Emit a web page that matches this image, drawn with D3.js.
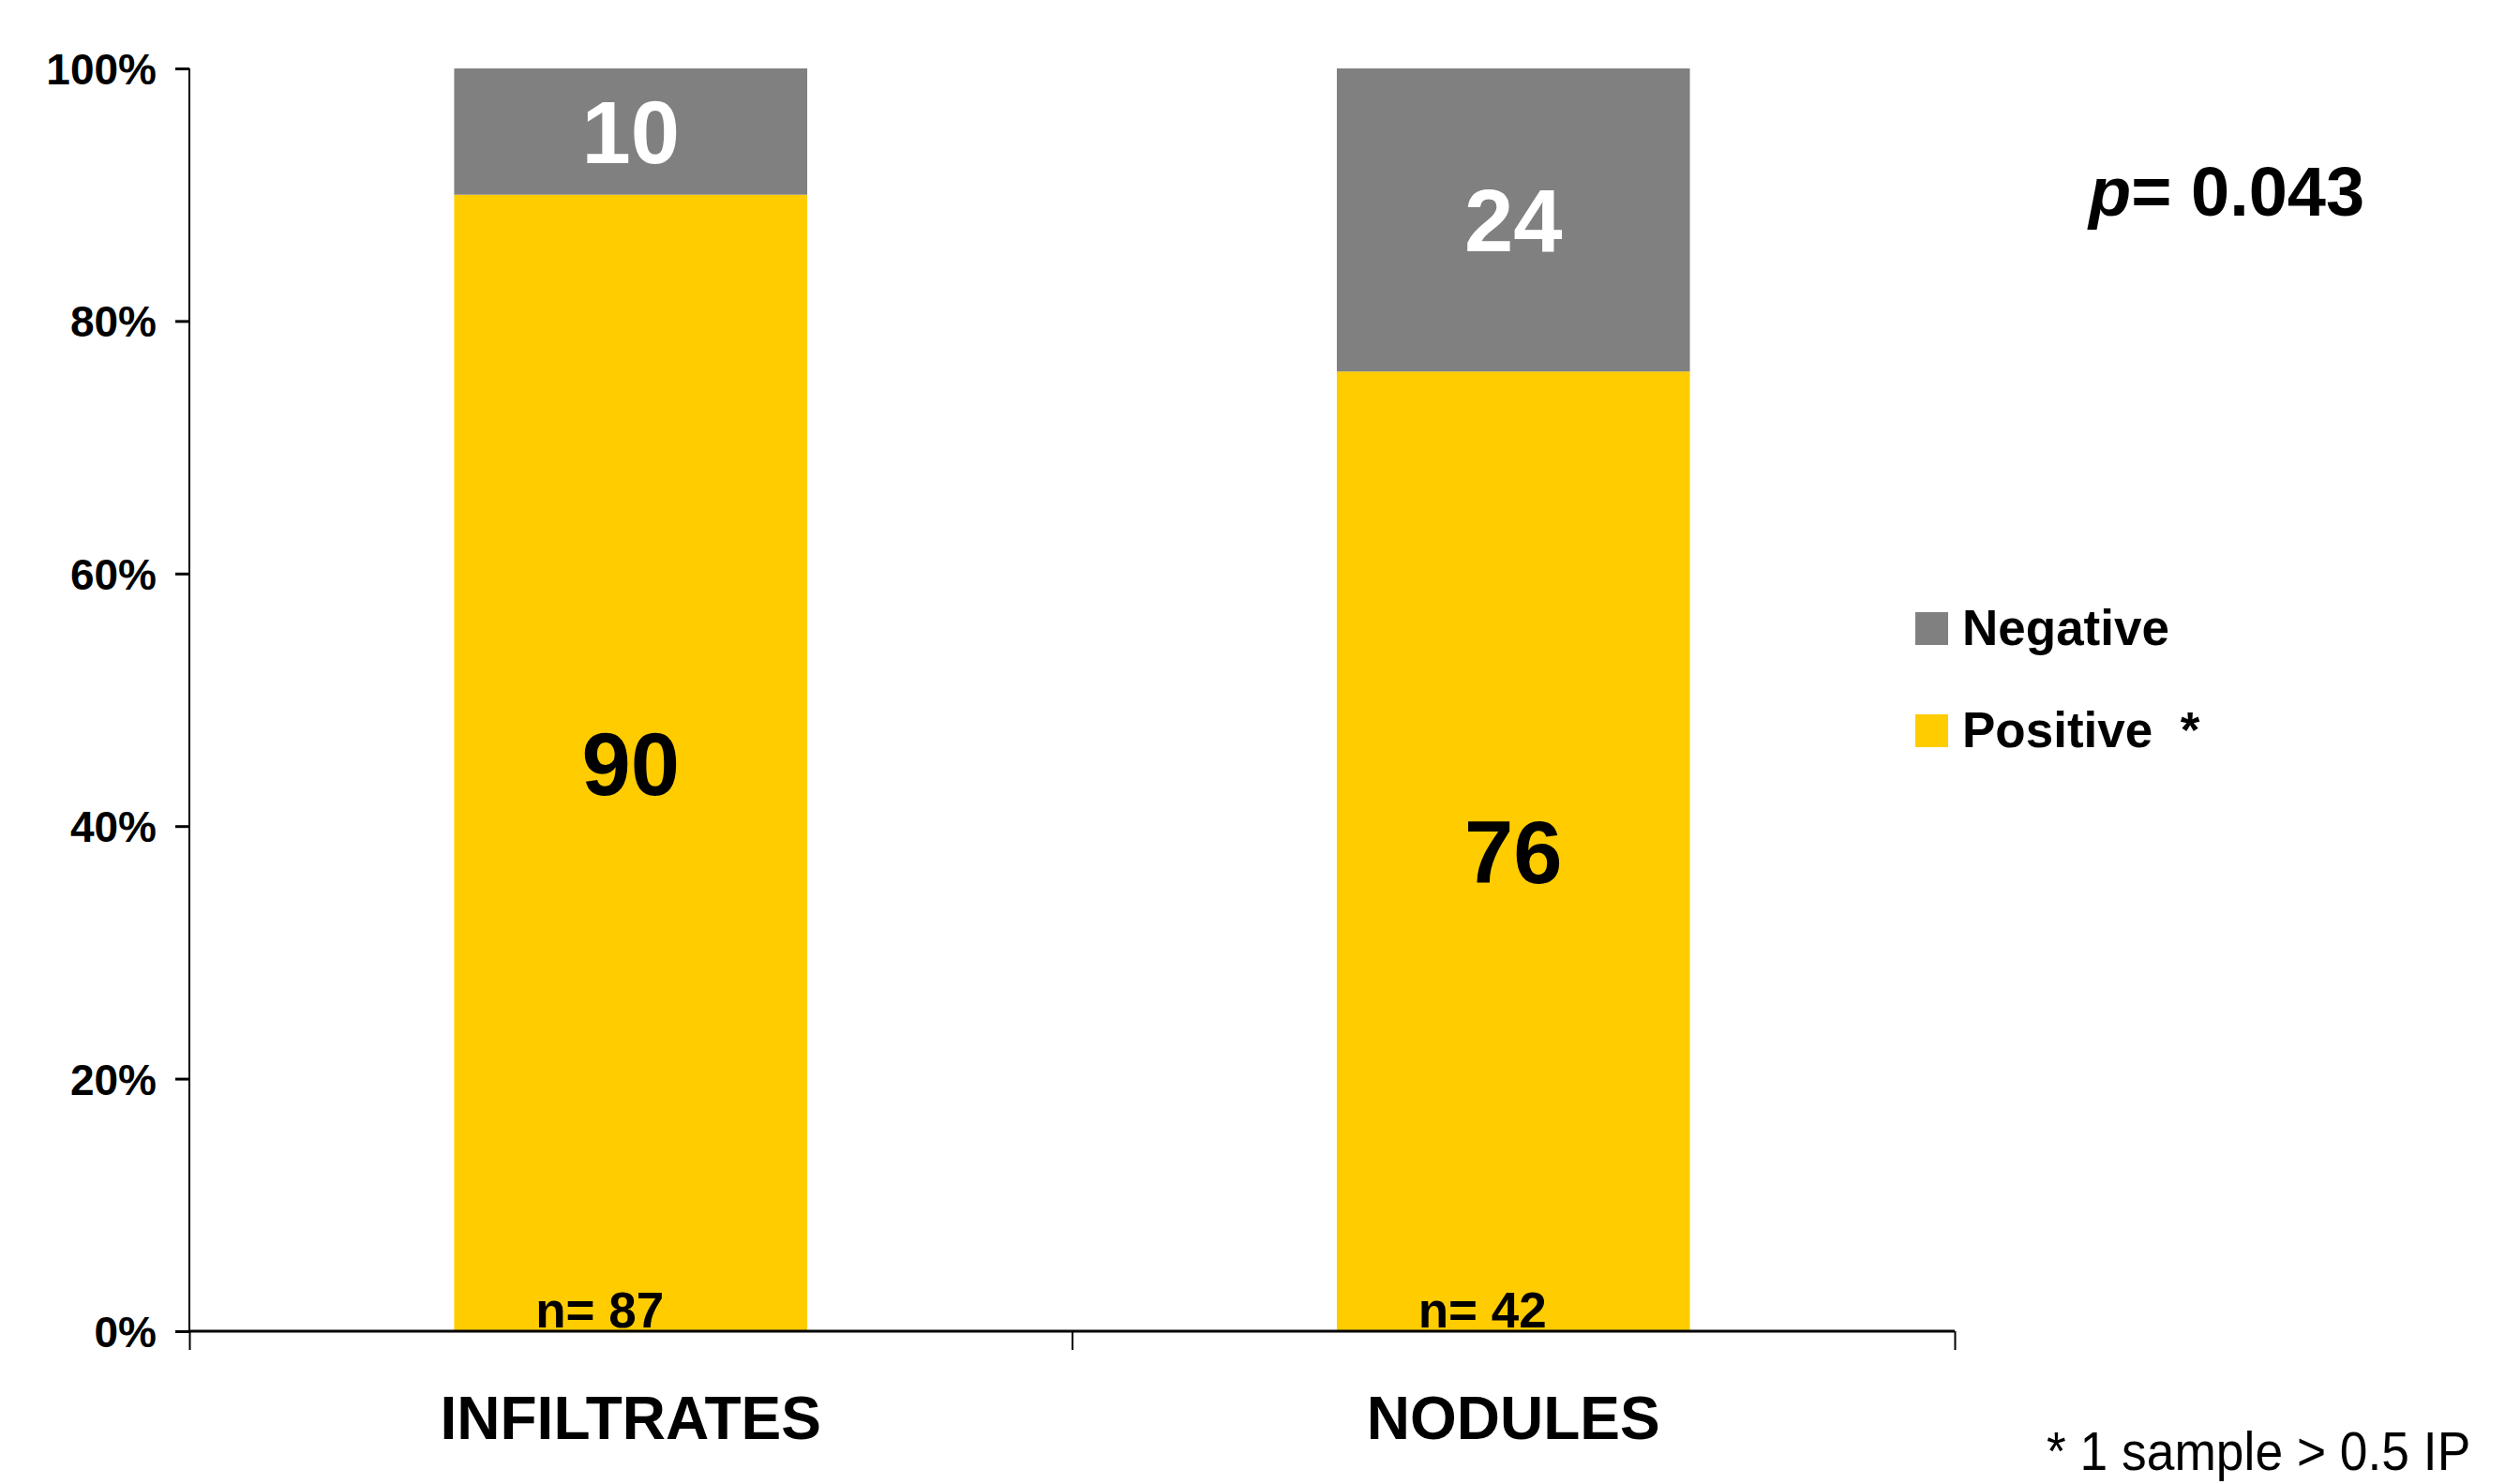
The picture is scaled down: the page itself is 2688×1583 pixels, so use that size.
<!DOCTYPE html>
<html>
<head>
<meta charset="utf-8">
<script src="https://cdn.jsdelivr.net/npm/d3@7"></script>
<style>
  html, body { margin: 0; padding: 0; background: #ffffff; }
  svg { display: block; font-family: "Liberation Sans", Arial, sans-serif; }
</style>
</head>
<body>
<svg id="chart" width="2688" height="1583"></svg>
<script>
// ---- data ----
const categories = ["INFILTRATES", "NODULES"];
const positive = [90, 76];
const negative = [10, 24];
const nLabels = ["n= 87", "n= 42"];
const yTicks = [0, 20, 40, 60, 80, 100];
const seriesKeys = ["Positive", "Negative"];
const seriesColors = ["#FFCC00", "#808080"];
const legendLabels = ["Negative", "Positive  *"];
const pValueText = "= 0.043";
const footnote = "* 1 sample > 0.5 IP";

// ---- layout ----
const W = 2688, H = 1583;
const margin = { left: 202, top: 73, right: 603, bottom: 163 };
const plotW = W - margin.left - margin.right;   // 1883
const plotH = H - margin.top - margin.bottom;   // 1347

const svg = d3.select("#chart");
const g = svg.append("g").attr("transform", `translate(${margin.left},${margin.top})`);

const x = d3.scaleBand().domain(categories).range([0, plotW]).paddingInner(0.6).paddingOuter(0.3);
const y = d3.scaleLinear().domain([0, 100]).range([plotH, 0]);
const color = d3.scaleOrdinal().domain(seriesKeys).range(seriesColors);

const table = categories.map((c, i) => ({ cat: c, Positive: positive[i], Negative: negative[i], n: nLabels[i] }));
const stacked = d3.stack().keys(seriesKeys)(table);

// bars
const layers = g.selectAll("g.layer").data(stacked).join("g")
  .attr("class", "layer").attr("fill", d => color(d.key));
layers.selectAll("rect").data(d => d).join("rect")
  .attr("x", d => x(d.data.cat))
  .attr("width", x.bandwidth())
  .attr("y", d => y(d[1]))
  .attr("height", d => y(d[0]) - y(d[1]));

// value labels
layers.each(function(layer) {
  d3.select(this).selectAll("text.val").data(layer).join("text")
    .attr("class", "val")
    .attr("x", d => x(d.data.cat) + x.bandwidth() / 2)
    .attr("y", d => (y(d[0]) + y(d[1])) / 2)
    .attr("dy", "0.36em")
    .attr("text-anchor", "middle")
    .attr("font-size", 94)
    .attr("font-weight", "bold")
    .attr("fill", layer.key === "Negative" ? "#ffffff" : "#000000")
    .text(d => d[1] - d[0]);
});

// n labels
g.selectAll("text.n").data(table).join("text")
  .attr("class", "n")
  .attr("x", d => x(d.cat) + x.bandwidth() / 2 - 33)
  .attr("y", y(0) - 4)
  .attr("text-anchor", "middle")
  .attr("font-size", 53)
  .attr("font-weight", "bold")
  .attr("fill", "#000")
  .text(d => d.n);

// y axis
const yAxis = g.append("g")
  .call(d3.axisLeft(y).tickValues(yTicks).tickFormat(d => d + "%").tickSize(15).tickPadding(20));
yAxis.select(".domain").attr("stroke", "#000").attr("stroke-width", 2).attr("d", `M0,${y(100)}V${y(0)}`);
yAxis.selectAll(".tick line").attr("stroke", "#000").attr("stroke-width", 3);
yAxis.selectAll(".tick text")
  .attr("font-size", 46).attr("font-weight", "bold").attr("fill", "#000")
  .attr("font-family", "'Liberation Sans', Arial, sans-serif").attr("dy", "0.36em");

// x axis: line with tick marks at category boundaries
const boundaries = [0, ...categories.map(c => x(c) - x.paddingOuter() * x.step() + x.step())];
const xb = d3.scaleLinear().domain([0, plotW]).range([0, plotW]);
const xAxis = g.append("g").attr("transform", `translate(0,${plotH})`)
  .call(d3.axisBottom(xb).tickValues(boundaries).tickSize(20).tickFormat(""));
xAxis.select(".domain").attr("stroke", "#000").attr("stroke-width", 3).attr("d", `M0,0H${plotW}`);
xAxis.selectAll(".tick line").attr("stroke", "#000").attr("stroke-width", 2);

// category labels
g.selectAll("text.cat").data(categories).join("text")
  .attr("class", "cat")
  .attr("x", d => x(d) + x.bandwidth() / 2)
  .attr("y", plotH + 115)
  .attr("text-anchor", "middle")
  .attr("font-size", 64)
  .attr("font-weight", "bold")
  .attr("fill", "#000")
  .text(d => d);

// legend
const legend = svg.append("g").attr("transform", "translate(2043,653)");
const legItems = legend.selectAll("g").data(legendLabels).join("g")
  .attr("transform", (d, i) => `translate(0,${i * 109})`);
legItems.append("rect")
  .attr("width", 35).attr("height", 35)
  .attr("fill", (d, i) => color(seriesKeys[1 - i]));
legItems.append("text")
  .attr("x", 50).attr("y", 35)
  .attr("font-size", 53).attr("font-weight", "bold").attr("fill", "#000")
  .style("white-space", "pre")
  .text(d => d);

// p value
const pt = svg.append("text").attr("x", 2228).attr("y", 230)
  .attr("font-size", 74).attr("font-weight", "bold").attr("fill", "#000");
pt.append("tspan").attr("font-style", "italic").text("p");
pt.append("tspan").text(pValueText);

// footnote
svg.append("text")
  .attr("transform", "translate(2183,1568) scale(0.92,1)")
  .attr("font-size", 58).attr("fill", "#000")
  .text(footnote);
</script>
</body>
</html>
